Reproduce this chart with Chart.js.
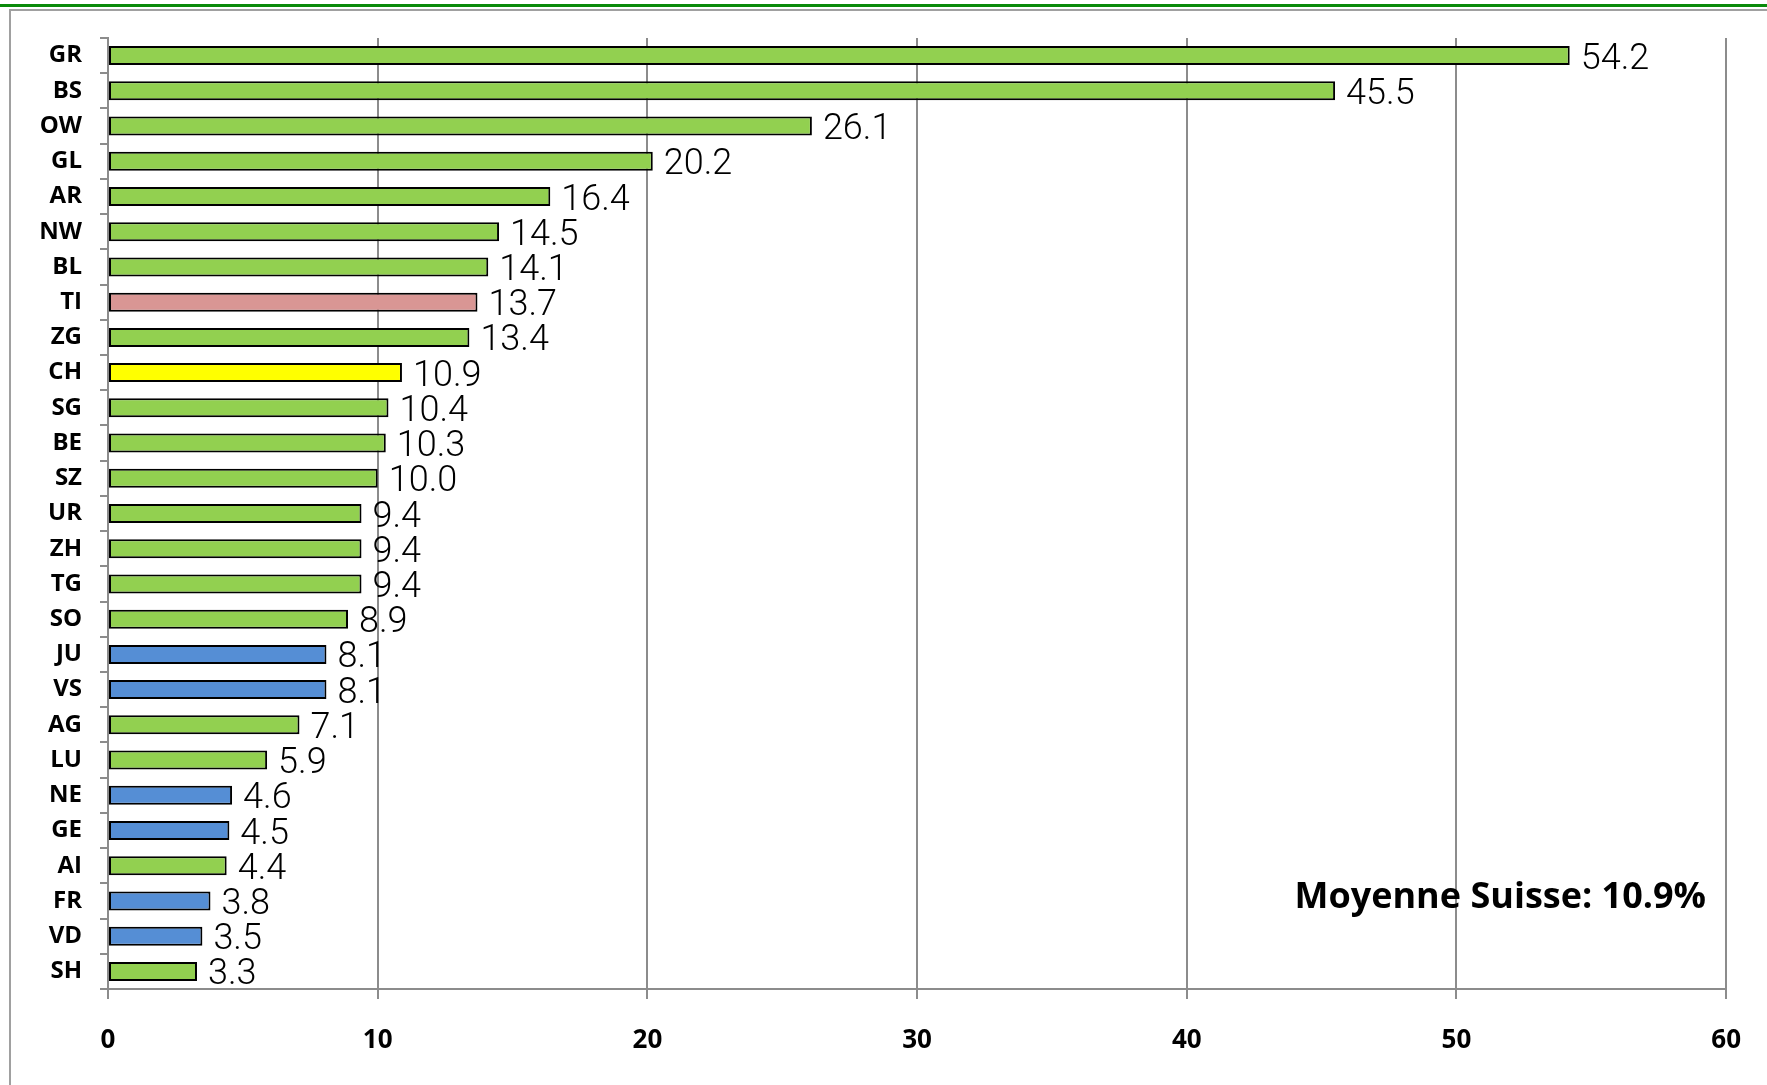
<!DOCTYPE html>
<html>
<head>
<meta charset="utf-8">
<script src="https://cdn.jsdelivr.net/npm/chart.js@4"></script>
<style>
  html, body { margin: 0; padding: 0; background: #fff; }
  #wrap { position: relative; width: 1767px; height: 1085px; overflow: hidden; }
  #greenline { position: absolute; left: 0; top: 4px; width: 1767px; height: 3px; background: #0a8a0a; }
  #grayline { position: absolute; left: 9px; top: 9px; width: 1758px; height: 2px; background: #a0a0a0; }
  #leftline { position: absolute; left: 9px; top: 9px; width: 2px; height: 1076px; background: #a0a0a0; }
  canvas { position: absolute; left: 0; top: 0; }
</style>
</head>
<body>
<div id="wrap">
  <div id="greenline"></div>
  <div id="grayline"></div>
  <div id="leftline"></div>
  <canvas id="c" width="1767" height="1085"></canvas>
</div>
<script>
const cantons = ["GR","BS","OW","GL","AR","NW","BL","TI","ZG","CH","SG","BE","SZ","UR","ZH","TG","SO","JU","VS","AG","LU","NE","GE","AI","FR","VD","SH"];
const values  = [54.2,45.5,26.1,20.2,16.4,14.5,14.1,13.7,13.4,10.9,10.4,10.3,10.0,9.4,9.4,9.4,8.9,8.1,8.1,7.1,5.9,4.6,4.5,4.4,3.8,3.5,3.3];
const groups  = ["g","g","g","g","g","g","g","ti","g","ch","g","g","g","g","g","g","g","b","b","g","g","b","b","g","b","b","g"];
const xTicks  = [0,10,20,30,40,50,60];
const noteText = "Moyenne Suisse: 10.9%";

const palette = { g: "#92D050", b: "#558ED5", ti: "#D99694", ch: "#FFFF00" };

const valueLabels = {
  id: "valueLabels",
  afterDatasetsDraw(chart) {
    const ctx = chart.ctx;
    const meta = chart.getDatasetMeta(0);
    ctx.save();
    ctx.font = "300 36px Roboto, 'Liberation Sans', sans-serif";
    ctx.fillStyle = "#000";
    ctx.textAlign = "left";
    ctx.textBaseline = "middle";
    meta.data.forEach((bar, i) => {
      ctx.fillText(values[i].toFixed(1), bar.x + 11, bar.y + 4);
    });
    ctx.font = "bold 36px 'Open Sans', Lato, sans-serif";
    ctx.textAlign = "right";
    ctx.fillText(noteText, 1706, 898);
    ctx.restore();
  }
};

new Chart(document.getElementById("c"), {
  type: "bar",
  data: {
    labels: cantons,
    datasets: [{
      data: values,
      backgroundColor: groups.map(g => palette[g]),
      borderColor: "#000",
      borderWidth: 2,
      borderSkipped: false,
      barPercentage: 0.54,
      categoryPercentage: 1.0
    }]
  },
  options: {
    indexAxis: "y",
    responsive: false,
    animation: false,
    devicePixelRatio: 1,
    layout: { padding: { left: 0, right: 31, top: 38, bottom: 0 } },
    plugins: { legend: { display: false }, tooltip: { enabled: false } },
    scales: {
      x: {
        min: 0, max: 60,
        afterBuildTicks(scale) { scale.ticks = xTicks.map(v => ({ value: v })); },
        afterFit(scale) { scale.height = 96; },
        grid: { color: "#8c8c8c", lineWidth: 2, tickLength: 10, drawTicks: true },
        border: { display: true, color: "#8c8c8c", width: 2 },
        ticks: { color: "#000", font: { family: "'Open Sans', Lato, sans-serif", weight: "bold", size: 26 }, padding: 26 }
      },
      y: {
        afterFit(scale) { scale.width = 108; },
        grid: { offset: true, drawOnChartArea: false, color: "#8c8c8c", lineWidth: 2, tickLength: 8 },
        border: { display: true, color: "#8c8c8c", width: 2 },
        ticks: { color: "#000", font: { family: "'Open Sans', Lato, sans-serif", weight: "bold", size: 24 }, padding: 18 }
      }
    }
  },
  plugins: [valueLabels]
});
</script>
</body>
</html>
